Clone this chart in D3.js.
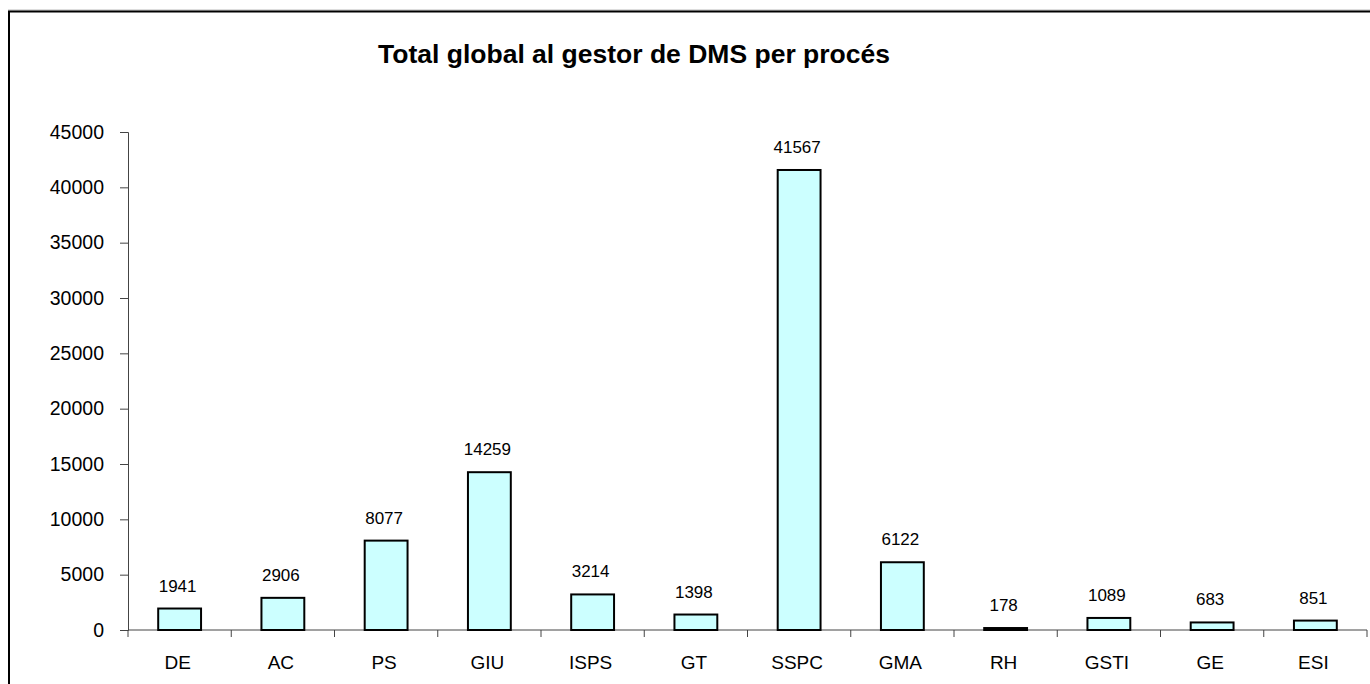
<!DOCTYPE html>
<html>
<head>
<meta charset="utf-8">
<script src="https://cdn.jsdelivr.net/npm/d3@7"></script>
<style>
  body { margin: 0; background: #fff; }
  text { font-family: Arial, "Liberation Sans", sans-serif; }
</style>
</head>
<body>
<div id="chart"></div>
<script>
var svgWidth = 1370;
var svgHeight = 684;

// data
var processes = ["DE", "AC", "PS", "GIU", "ISPS", "GT", "SSPC", "GMA", "RH", "GSTI", "GE", "ESI"];
var totals = [1941, 2906, 8077, 14259, 3214, 1398, 41567, 6122, 178, 1089, 683, 851];
var yTicks = [0, 5000, 10000, 15000, 20000, 25000, 30000, 35000, 40000, 45000];

var margin = { top: 132, right: 3, bottom: 54, left: 128 };
var width = svgWidth - margin.left - margin.right;
var height = svgHeight - margin.top - margin.bottom;

var svg = d3.select("#chart")
  .append("svg")
  .attr("width", svgWidth)
  .attr("height", svgHeight);

// outer frame of the chart object (only top and left visible)
svg.append("line")
  .attr("x1", 8).attr("x2", svgWidth)
  .attr("y1", 10).attr("y2", 10)
  .attr("stroke", "#bbb").attr("stroke-width", 1);
svg.append("path")
  .attr("d", `M9,${svgHeight} V11.5 H${svgWidth}`)
  .attr("fill", "none")
  .attr("stroke", "#000")
  .attr("stroke-width", 2);

// title
svg.append("text")
  .attr("x", 634)
  .attr("y", 63)
  .attr("text-anchor", "middle")
  .attr("font-size", "26.5px")
  .attr("font-weight", "bold")
  .text("Total global al gestor de DMS per procés");

var chartGroup = svg.append("g")
  .attr("transform", `translate(${margin.left}, ${margin.top})`);

var xScale = d3.scaleBand()
  .domain(processes)
  .range([0, width])
  .paddingInner(0.585)
  .paddingOuter(0.2925);

var yScale = d3.scaleLinear()
  .domain([0, 45000])
  .range([height, 0]);

// y axis
var leftAxis = d3.axisLeft(yScale)
  .tickValues(yTicks)
  .tickSize(8)
  .tickPadding(16)
  .tickFormat(d3.format("d"));

var yAxis = chartGroup.append("g")
  .call(leftAxis);
yAxis.select(".domain").attr("stroke", "#444");
yAxis.selectAll(".tick line").attr("stroke", "#444");
yAxis.selectAll(".tick text")
  .attr("font-family", "Arial, 'Liberation Sans', sans-serif")
  .attr("font-size", "19.5px")
  .attr("fill", "#000");

// x axis: ticks sit between categories
var tickScale = d3.scaleLinear().domain([0, processes.length]).range([0, width]);
var xAxis = chartGroup.append("g")
  .attr("transform", `translate(0, ${height})`);
xAxis.append("line")
  .attr("x1", 0).attr("x2", width)
  .attr("stroke", "#444");
xAxis.selectAll(".xtick")
  .data(d3.range(processes.length + 1))
  .enter()
  .append("line")
  .attr("x1", d => tickScale(d))
  .attr("x2", d => tickScale(d))
  .attr("y1", 0)
  .attr("y2", 7)
  .attr("stroke", "#444");
xAxis.selectAll(".xlabel")
  .data(processes)
  .enter()
  .append("text")
  .attr("x", d => xScale(d) + xScale.bandwidth() / 2 - 2)
  .attr("y", 39)
  .attr("text-anchor", "middle")
  .attr("font-size", "19px")
  .text(d => d);

// bars
chartGroup.selectAll("rect")
  .data(totals)
  .enter()
  .append("rect")
  .attr("x", (d, i) => xScale(processes[i]))
  .attr("y", d => yScale(d))
  .attr("width", xScale.bandwidth())
  .attr("height", d => height - yScale(d))
  .attr("fill", "#CCFFFF")
  .attr("stroke", "#000")
  .attr("stroke-width", 2);

// value labels
chartGroup.selectAll(".valueText")
  .data(totals)
  .enter()
  .append("text")
  .attr("x", (d, i) => xScale(processes[i]) + xScale.bandwidth() / 2 - 2)
  .attr("y", d => yScale(d) - 17)
  .attr("text-anchor", "middle")
  .attr("font-size", "17px")
  .text(d => d);
</script>
</body>
</html>
